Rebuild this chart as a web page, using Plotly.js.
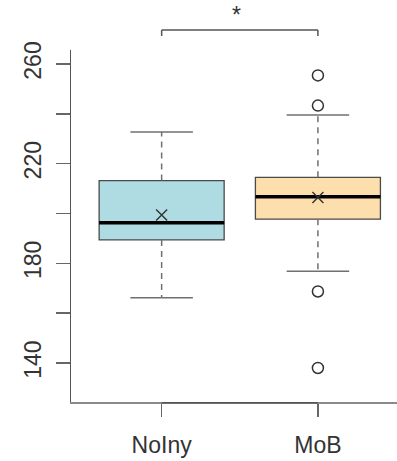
<!DOCTYPE html>
<html>
<head>
<meta charset="utf-8">
<script src="https://cdn.plot.ly/plotly-3.0.1.min.js"></script>
<style>html,body{margin:0;padding:0;background:#fff;}#chart{width:397px;height:461px;}</style>
</head>
<body>
<div id="chart"></div>
<script>
// ---- data ----
const categories = ['NoIny', 'MoB'];
const q1Values = [189.4, 197.7];
const medianValues = [196.3, 206.7];
const q3Values = [213.2, 214.5];
const lowerWhiskers = [166.2, 176.8];
const upperWhiskers = [232.7, 239.5];
const meanValues = [199.4, 206.4];
const outlierGroups = ['MoB', 'MoB', 'MoB', 'MoB'];
const outlierValues = [255.4, 243.3, 168.7, 138.0];
const yTickValues = [140, 160, 180, 200, 220, 240, 260];
const yTickLabels = ['140', '', '180', '', '220', '', '260'];
const significanceLabel = '*';

// ---- styles ----
const fillColors = ['#AEDCE2', '#FDDEAD'];
const boxWidth = 0.8;
const capHalf = 0.2;
const FONT = '"Liberation Sans", Arial, sans-serif';

const pos = categories.map((c, i) => i + 1);
const traces = [];

// dashed whiskers
const wx = [], wy = [];
pos.forEach((p, i) => {
  wx.push(p, p, null, p, p, null);
  wy.push(q3Values[i], upperWhiskers[i], null, q1Values[i], lowerWhiskers[i], null);
});
traces.push({type: 'scatter', mode: 'lines', x: wx, y: wy, hoverinfo: 'skip',
  line: {color: '#707070', width: 1.5, dash: '6px,5px'}, showlegend: false});

// caps
const cx = [], cy = [];
pos.forEach((p, i) => {
  cx.push(p - capHalf, p + capHalf, null, p - capHalf, p + capHalf, null);
  cy.push(upperWhiskers[i], upperWhiskers[i], null, lowerWhiskers[i], lowerWhiskers[i], null);
});
traces.push({type: 'scatter', mode: 'lines', x: cx, y: cy, hoverinfo: 'skip',
  line: {color: '#707070', width: 1.5}, showlegend: false});

// boxes
pos.forEach((p, i) => {
  traces.push({type: 'box', x: [p], q1: [q1Values[i]], median: [medianValues[i]],
    q3: [q3Values[i]], lowerfence: [q1Values[i]], upperfence: [q3Values[i]],
    width: boxWidth, whiskerwidth: 0, fillcolor: fillColors[i],
    line: {color: '#4a4a4a', width: 1.3}, hoverinfo: 'skip', showlegend: false,
    name: categories[i]});
});

// thick medians
const mx = [], my = [];
pos.forEach((p, i) => {
  mx.push(p - boxWidth / 2, p + boxWidth / 2, null);
  my.push(medianValues[i], medianValues[i], null);
});
traces.push({type: 'scatter', mode: 'lines', x: mx, y: my, hoverinfo: 'skip',
  line: {color: '#000', width: 3.5}, showlegend: false});

// means
traces.push({type: 'scatter', mode: 'markers', x: pos, y: meanValues, hoverinfo: 'skip',
  marker: {symbol: 'x-thin-open', size: 11, color: '#333', line: {color: '#333', width: 1.4}},
  showlegend: false, cliponaxis: false});

// outliers
traces.push({type: 'scatter', mode: 'markers',
  x: outlierGroups.map(g => categories.indexOf(g) + 1), y: outlierValues, hoverinfo: 'skip',
  marker: {symbol: 'circle-open', size: 11, color: '#333', line: {color: '#333', width: 1.5}},
  showlegend: false, cliponaxis: false});

const yBr0 = 1.0398, yBr1 = 1.0568;
const layout = {
  width: 397, height: 461,
  margin: {l: 71, r: 0, t: 50, b: 59, pad: 0},
  paper_bgcolor: '#fff', plot_bgcolor: '#fff',
  boxmode: 'overlay',
  showlegend: false,
  font: {family: FONT, color: '#333', size: 23},
  xaxis: {range: [0.42, 2.506], tickvals: pos, ticktext: categories,
    showgrid: false, zeroline: false, showline: true, linecolor: '#8a8a8a', linewidth: 1.5,
    ticks: 'outside', ticklen: 13, tickwidth: 1.5, tickcolor: '#666',
    tickfont: {family: FONT, size: 23, color: '#333'}, ticklabelstandoff: 9},
  yaxis: {range: [124.35, 265.6], tickvals: yTickValues, ticktext: yTickLabels,
    tickangle: -90, showgrid: false, zeroline: false, showline: true,
    linecolor: '#555', linewidth: 1.5, ticks: 'outside', ticklen: 14, tickwidth: 1.5,
    tickcolor: '#666', tickfont: {family: FONT, size: 23, color: '#333'}, ticklabelstandoff: 5},
  shapes: [
    {type: 'line', xref: 'x', yref: 'paper', x0: pos[0], x1: pos[1], y0: -0.0021, y1: -0.0021,
      line: {color: '#555', width: 1.5}},
    {type: 'line', xref: 'x', yref: 'paper', x0: pos[0], x1: pos[1], y0: yBr1, y1: yBr1,
      line: {color: '#555', width: 1.5}},
    {type: 'line', xref: 'x', yref: 'paper', x0: pos[0], x1: pos[0], y0: yBr0, y1: yBr1,
      line: {color: '#555', width: 1.5}},
    {type: 'line', xref: 'x', yref: 'paper', x0: pos[1], x1: pos[1], y0: yBr0, y1: yBr1,
      line: {color: '#555', width: 1.5}}
  ],
  annotations: [
    {text: significanceLabel, xref: 'x', yref: 'paper', x: (pos[0] + pos[1]) / 2 - 0.02,
      y: 1.1, showarrow: false, xanchor: 'center', yanchor: 'middle',
      font: {family: FONT, size: 23, color: '#333'}}
  ]
};

Plotly.newPlot('chart', traces, layout, {staticPlot: true, displayModeBar: false});
</script>
</body>
</html>
